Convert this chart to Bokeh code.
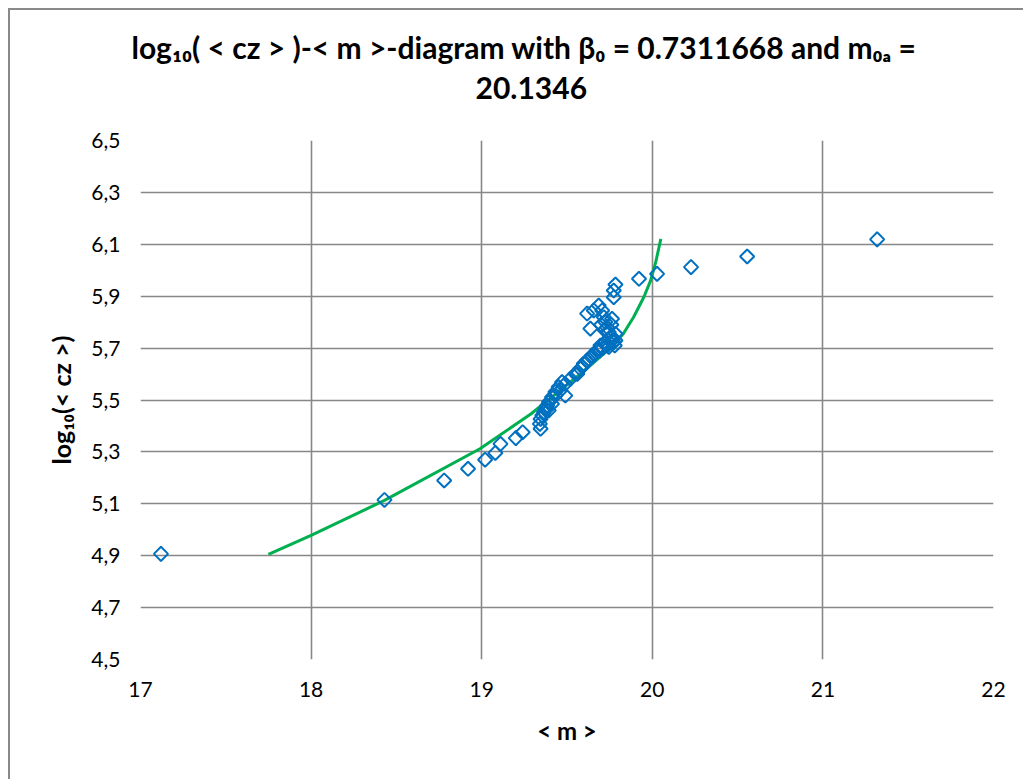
import numpy as np
from bokeh.plotting import figure
from bokeh.models import FixedTicker, CustomJSTickFormatter, Title
from bokeh.embed import file_html
from bokeh.resources import INLINE

# ---- data ----
m_obs = [17.12, 18.43, 18.78, 18.92, 19.02, 19.08, 19.11, 19.20, 19.24,
         19.345, 19.341, 19.345, 19.355, 19.365, 19.374, 19.384, 19.394, 19.412, 19.432,
         19.451, 19.471, 19.49, 19.393, 19.412, 19.432, 19.461, 19.49, 19.52, 19.549,
         19.578, 19.598, 19.617, 19.647, 19.676, 19.696, 19.725, 19.764, 19.784,
         19.56, 19.59, 19.63, 19.66, 19.69, 19.71, 19.74,
         19.637, 19.618, 19.657, 19.686, 19.706, 19.716, 19.725, 19.735, 19.745,
         19.764, 19.774, 19.784, 19.725, 19.745, 19.764, 19.774, 19.774, 19.784,
         19.70, 19.72, 19.75, 19.76, 19.78,
         19.922, 20.028, 20.227, 20.556, 21.318]
logcz_obs = [4.907, 5.115, 5.190, 5.235, 5.270, 5.296, 5.331, 5.353, 5.376,
             5.389, 5.408, 5.427, 5.440, 5.453, 5.466, 5.479, 5.492, 5.511, 5.531,
             5.550, 5.569, 5.517, 5.460, 5.485, 5.517, 5.537, 5.562, 5.582, 5.601,
             5.621, 5.640, 5.652, 5.672, 5.691, 5.710, 5.723, 5.729, 5.755,
             5.600, 5.628, 5.655, 5.675, 5.690, 5.700, 5.712,
             5.775, 5.833, 5.845, 5.864, 5.845, 5.819, 5.800, 5.780, 5.761,
             5.742, 5.723, 5.729, 5.723, 5.704, 5.813, 5.896, 5.922, 5.945,
             5.790, 5.770, 5.740, 5.790, 5.710,
             5.967, 5.986, 6.012, 6.053, 6.119]

m_fit = [17.75, 18.0, 18.43, 18.99, 19.29, 19.58, 19.77, 19.83, 19.89, 19.95, 19.99, 20.02, 20.05]
logcz_fit = [4.905, 4.978, 5.113, 5.312, 5.447, 5.601, 5.71, 5.755, 5.819, 5.896, 5.960, 6.031, 6.121]

x_ticks = [17, 18, 19, 20, 21, 22]
y_ticks = [4.5, 4.7, 4.9, 5.1, 5.3, 5.5, 5.7, 5.9, 6.1, 6.3, 6.5]

title_line1 = "log\u2081\u2080( < cz > )-< m >-diagram with \u03b2\u2080 = 0.7311668 and m\u2080\u2090 ="
title_line2 = "20.1346"
x_label = "< m >"
y_label = "log\u2081\u2080(< cz >)"

FONT = "Lato"
GRID = "#878787"

p = figure(width=1015, height=771, x_range=(17, 22), y_range=(4.5, 6.5),
           output_backend="svg", toolbar_location=None,
           min_border_left=130, min_border_right=32, min_border_top=130, min_border_bottom=122)
p.styles = {"margin": "8px 0 0 8px",
            "border-left": "2px solid #898989", "border-top": "2px solid #898989"}
p.outline_line_color = None
p.background_fill_color = "white"
p.border_fill_color = "white"

p.xaxis.ticker = FixedTicker(ticks=x_ticks)
p.yaxis.ticker = FixedTicker(ticks=y_ticks)
p.yaxis.formatter = CustomJSTickFormatter(code="return tick.toFixed(1).replace('.', ',');")
for ax in (p.xaxis, p.yaxis):
    ax.axis_line_color = None
    ax.major_tick_line_color = None
    ax.minor_tick_line_color = None
    ax.major_tick_out = 0
    ax.major_tick_in = 0
    ax.major_label_text_font = FONT
    ax.major_label_text_font_size = "21px"
    ax.major_label_text_color = "black"
    ax.axis_label_text_font = FONT
    ax.axis_label_text_font_size = "24px"
    ax.axis_label_text_font_style = "bold"
    ax.axis_label_text_color = "black"
p.yaxis.axis_label_text_font_size = "25px"
p.xaxis.major_label_standoff = 22
p.yaxis.major_label_standoff = 20
p.xaxis.axis_label = x_label
p.yaxis.axis_label = y_label
p.xaxis.axis_label_standoff = 16
p.yaxis.axis_label_standoff = 12

for g in (p.xgrid, p.ygrid):
    g.grid_line_color = GRID
    g.grid_line_width = 1.6
p.xgrid.ticker = FixedTicker(ticks=x_ticks)
p.ygrid.ticker = FixedTicker(ticks=y_ticks)

p.line(m_fit, logcz_fit, line_color="#00B050", line_width=3)
p.scatter(m_obs, logcz_obs, marker="square", size=10, angle=np.pi / 4,
          fill_color=None, line_color="#0070C0", line_width=2)

p.title = None
p.add_layout(Title(text=" ", text_font=FONT, text_font_size="21px"), "above")
p.add_layout(Title(text=title_line2, align="left", offset=335,
                   text_font=FONT, text_font_size="30px", text_font_style="bold",
                   text_line_height=0.68, text_color="black"), "above")
p.add_layout(Title(text=title_line1, align="left", offset=-9,
                   text_font=FONT, text_font_size="30px", text_font_style="bold",
                   text_line_height=0.78, text_color="black"), "above")

open("out.html", "w").write(file_html(p, INLINE))
